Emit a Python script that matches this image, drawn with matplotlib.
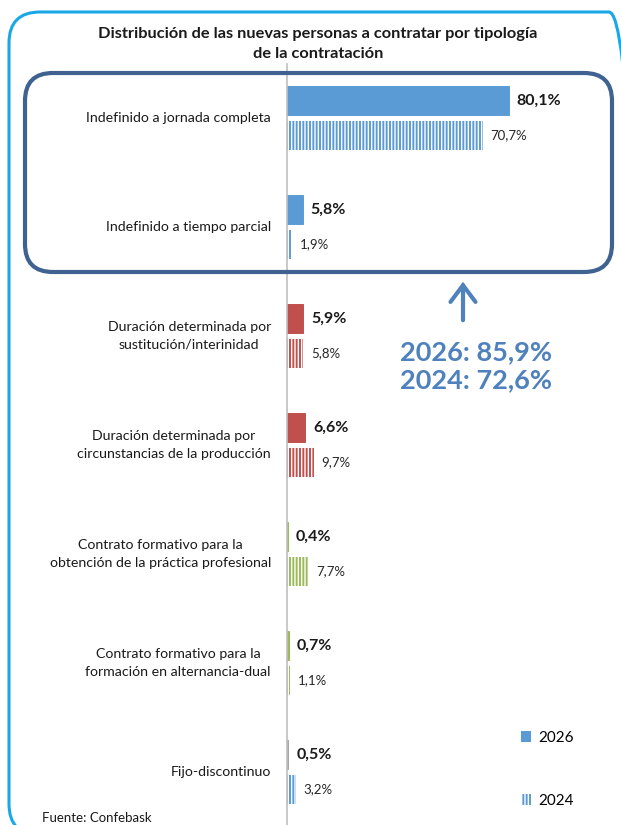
import matplotlib
matplotlib.use("Agg")
import matplotlib.pyplot as plt
from matplotlib.patches import FancyBboxPatch, FancyArrowPatch, Patch

plt.rcParams['font.family'] = ['Lato', 'DejaVu Sans']
plt.rcParams['hatch.linewidth'] = 1.0

# Data
categories = [
    "Indefinido a jornada completa",
    "Indefinido a tiempo parcial",
    "Duración determinada por\nsustitución/interinidad",
    "Duración determinada por\ncircunstancias de la producción",
    "Contrato formativo para la\nobtención de la práctica profesional",
    "Contrato formativo para la\nformación en alternancia-dual",
    "Fijo-discontinuo",
]
values_2026 = [80.1, 5.8, 5.9, 6.6, 0.4, 0.7, 0.5]
values_2024 = [70.7, 1.9, 5.8, 9.7, 7.7, 1.1, 3.2]
colors_2026 = ["#5B9BD5", "#5B9BD5", "#C0504D", "#C0504D", "#9BBB59", "#9BBB59", "#A5A5A5"]
colors_2024 = ["#5B9BD5", "#5B9BD5", "#C0504D", "#C0504D", "#9BBB59", "#9BBB59", "#5B9BD5"]
summary_text = "2026: 85,9%\n2024: 72,6%"

W, H = 621, 825
fig = plt.figure(figsize=(W / 100, H / 100), dpi=100)

# axes placed in pixel terms (top-down)
ax_left, ax_right, ax_top, ax_bottom = 287, 600, 63.5, 826.5
ax = fig.add_axes([ax_left / W, 1 - ax_bottom / H, (ax_right - ax_left) / W, (ax_bottom - ax_top) / H])
ax.set_xlim(0, 113)
ax.set_ylim(len(categories) - 0.5, -0.5)

off = 0.16
bh = 0.26
for i, cat in enumerate(categories):
    # thin edge so the very small bars stay visible, like in the original
    ax.barh(i - off, values_2026[i], height=bh, color=colors_2026[i],
            edgecolor=colors_2026[i], linewidth=0.7)
    ax.barh(i + off, values_2024[i], height=bh, color=colors_2024[i],
            edgecolor="white", hatch="|||||", linewidth=0)
    ax.text(values_2026[i] + 2.8, i - off, f"{values_2026[i]:.1f}%".replace(".", ","),
            va="center", ha="left", fontsize=11.5, fontweight="bold", color="#1a1a1a")
    ax.text(values_2024[i] + 2.8, i + off, f"{values_2024[i]:.1f}%".replace(".", ","),
            va="center", ha="left", fontsize=9.5, color="#262626")
    ax.text(-5.8, i, cat, va="center", ha="right", multialignment="center",
            fontsize=10.2, color="#1a1a1a", linespacing=1.55)

for s in ["top", "right", "bottom"]:
    ax.spines[s].set_visible(False)
ax.spines["left"].set_color("#BFBFBF")
ax.spines["left"].set_linewidth(1.2)
ax.set_xticks([])
ax.set_yticks([])

# legend
handles = [Patch(facecolor="#5B9BD5", linewidth=0, label="2026"),
           Patch(facecolor="#5B9BD5", edgecolor="white", hatch="|||||", linewidth=0, label="2024")]
fig.legend(handles=handles, loc="upper left", bbox_to_anchor=(507 / W, 1 - 717 / H),
           frameon=False, fontsize=11, handlelength=0.7, handleheight=0.7,
           handletextpad=0.45, labelspacing=3.2)

# title and source
fig.text(318 / W, 1 - 44 / H, "Distribución de las nuevas personas a contratar por tipología\nde la contratación",
         ha="center", va="center", fontsize=11.8, fontweight="bold", color="#1a1a1a", linespacing=1.6)
fig.text(42 / W, 1 - 818 / H, "Fuente: Confebask", ha="left", va="center", fontsize=9.5, color="#1a1a1a")

# frames
outer = FancyBboxPatch((9 / W, -10 / H), (640 - 9) / W, (H - 12 + 10) / H,
                       boxstyle="round,pad=0,rounding_size=0.05", transform=fig.transFigure,
                       facecolor="none", edgecolor="#1AA7E8", linewidth=2.2, mutation_aspect=W / H)
fig.add_artist(outer)
inner = FancyBboxPatch((25 / W, 1 - 272 / H), (612 - 25) / W, (272 - 73) / H,
                       boxstyle="round,pad=0,rounding_size=0.045", transform=fig.transFigure,
                       facecolor="none", edgecolor="#3F6290", linewidth=3, mutation_aspect=W / H)
fig.add_artist(inner)

# arrow and summary
fig.add_artist(FancyArrowPatch(
    (463 / W, 1 - 323 / H), (463 / W, 1 - 279 / H), transform=fig.transFigure,
    arrowstyle="->,head_length=0.6,head_width=0.45", color="#4F81BD", linewidth=3,
    mutation_scale=20, capstyle="round", joinstyle="miter"))
fig.text(476 / W, 1 - 366 / H, summary_text, ha="center", va="center", fontsize=19.5,
         fontweight="bold", color="#4F81BD", linespacing=1.2)

fig.savefig("out.png", dpi=100)
